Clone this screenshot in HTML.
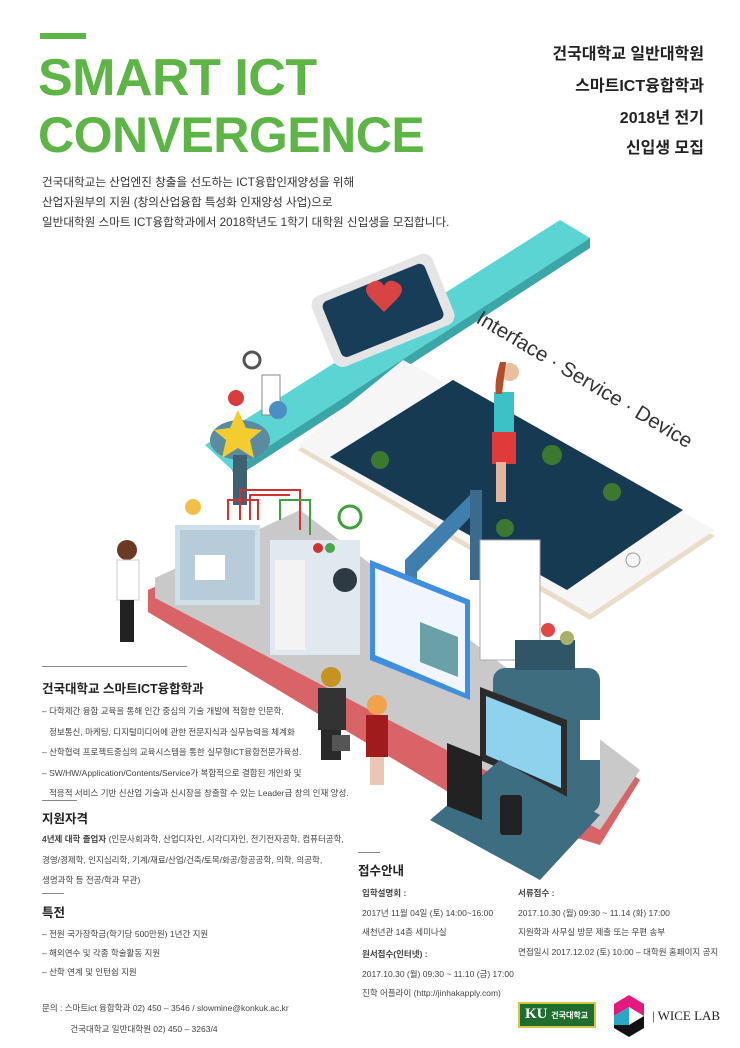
<!DOCTYPE html>
<html><head><meta charset="utf-8">
<style>
*{margin:0;padding:0;box-sizing:border-box}
body{width:740px;height:1048px;background:#fff;position:relative;overflow:hidden;font-family:"Liberation Sans","Noto Sans CJK KR",sans-serif;color:#333}
.a{position:absolute;white-space:nowrap}
.big{font-weight:bold;color:#5cb545;line-height:1;transform-origin:0 0;letter-spacing:-0.5px}
.rt{right:36px;font-size:16px;font-weight:bold;color:#222;text-align:right}
.p{font-size:11.6px;color:#333;line-height:20px;left:42px}
.h{font-size:12.5px;font-weight:bold;color:#222}
.s{font-size:8.5px;color:#444}
.ln{position:absolute;height:1px;background:#888}
</style></head><body>
<div class="a" style="left:40px;top:33px;width:46px;height:6px;background:#5cb545"></div>
<div class="a big" style="left:38px;top:52px;font-size:52px">SMART ICT</div>
<div class="a big" style="left:38px;top:110px;font-size:50px">CONVERGENCE</div>
<div class="a rt" style="top:40px">건국대학교 일반대학원</div>
<div class="a rt" style="top:72px">스마트ICT융합학과</div>
<div class="a rt" style="top:104px">2018년 전기</div>
<div class="a rt" style="top:134px">신입생 모집</div>
<div class="a p" style="top:173px">건국대학교는 산업엔진 창출을 선도하는 ICT융합인재양성을 위해<br>산업자원부의 지원 (창의산업융합 특성화 인재양성 사업)으로<br>일반대학원 스마트 ICT융합학과에서 2018학년도 1학기 대학원 신입생을 모집합니다.</div>

<svg class="a" style="left:0;top:0" width="740" height="1048">
<polygon points="148,590 300,520 640,780 600,845 470,805 148,612" fill="#d86468"/>
<polygon points="155,578 300,510 640,770 600,830 155,598" fill="#c9c9c9"/>
<polygon points="205,445 560,220 590,238 232,470" fill="#5dd4d4"/>
<polygon points="232,470 590,238 590,248 235,478" fill="#3aa6a8"/>
<rect x="318" y="272" width="130" height="76" rx="10" fill="#e5e5e5" transform="rotate(-22 384 310)"/>
<rect x="328" y="280" width="110" height="60" rx="6" fill="#173d58" transform="rotate(-22 384 310)"/>
<path d="M372 300 q-12 -12 0 -18 q8 -4 12 4 q4 -8 12 -4 q12 6 0 18 l-12 12z" fill="#d84343"/>
<polygon points="298,450 403,363 715,536 590,620" fill="#e8ddc8"/>
<polygon points="298,445 403,360 715,530 590,614" fill="#f6f6f6"/>
<polygon points="330,457 453,380 683,510 567,590" fill="#163a52"/>
<circle cx="633" cy="560" r="7" fill="none" stroke="#999"/>
<text x="475" y="322" font-size="20.5" fill="#333" transform="rotate(30.8 475 322)" font-family="Liberation Sans">Interface · Service · Device</text>
<rect x="494" y="392" width="20" height="44" fill="#3cc1c6"/>
<rect x="492" y="432" width="24" height="32" fill="#e03a3a"/>
<rect x="496" y="462" width="10" height="40" fill="#e4b59a"/>
<circle cx="510" cy="372" r="9" fill="#e9bfa0"/>
<path d="M500 362 q-6 20 -4 32 l6 0 l4 -32z" fill="#b44d2a"/>
<circle cx="380" cy="460" r="9" fill="#3b7a2e"/><circle cx="552" cy="455" r="10" fill="#3b7a2e"/><circle cx="612" cy="492" r="9" fill="#3b7a2e"/><circle cx="505" cy="528" r="9" fill="#3b7a2e"/>
<ellipse cx="240" cy="440" rx="30" ry="20" fill="#5b8ba0"/>
<rect x="233" y="455" width="14" height="50" fill="#3f6070"/>
<polygon points="238,410 246,428 262,430 250,440 254,458 238,448 222,458 226,440 214,430 230,428" fill="#f3cc2e"/>
<rect x="262" y="375" width="18" height="40" fill="#fff" stroke="#888"/>
<circle cx="278" cy="410" r="9" fill="#4a8fc3"/>
<circle cx="252" cy="360" r="8" fill="none" stroke="#555" stroke-width="3"/>
<circle cx="236" cy="398" r="8" fill="#d83c3c"/>
<rect x="175" y="525" width="85" height="80" fill="#cfe0ea"/>
<rect x="180" y="530" width="75" height="70" fill="#b7ccd8"/>
<rect x="195" y="555" width="30" height="25" fill="#fff"/>
<rect x="270" y="540" width="90" height="115" fill="#dfe9ef"/>
<rect x="275" y="560" width="30" height="90" fill="#f3f3f3"/>
<circle cx="345" cy="580" r="12" fill="#2d3a44"/>
<circle cx="318" cy="548" r="5" fill="#d03232"/><circle cx="330" cy="548" r="5" fill="#4aa64a"/>
<path d="M228 520 v-20 h30 v20 M240 520 v-30 h60 v40 M250 520 v-25 h40" stroke="#d03232" fill="none" stroke-width="2"/>
<path d="M280 520 v-20 h30 v35" stroke="#3fa03f" fill="none" stroke-width="2"/>
<circle cx="193" cy="507" r="8" fill="#f2c04a"/>
<circle cx="350" cy="517" r="11" fill="#fff" stroke="#3fa03f" stroke-width="3"/>
<rect x="405" y="560" width="12" height="60" fill="#3f7fae"/>
<polygon points="405,560 470,495 482,505 417,572" fill="#3f7fae"/>
<rect x="470" y="490" width="12" height="90" fill="#3a6a8c"/>
<polygon points="370,560 470,600 470,700 370,660" fill="#3e8fe0"/>
<polygon points="375,568 465,604 465,693 375,655" fill="#f0f6fb"/>
<polygon points="420,622 458,637 458,677 420,662" fill="#6aa0a8"/>
<rect x="480" y="540" width="60" height="120" fill="#fff" stroke="#aaa"/>
<rect x="493" y="668" width="107" height="145" rx="12" fill="#3f6d80"/>
<rect x="515" y="640" width="60" height="30" fill="#2f5566"/>
<circle cx="548" cy="630" r="7" fill="#e04848"/><circle cx="567" cy="638" r="7" fill="#a9b06a"/>
<rect x="580" y="720" width="20" height="40" fill="#fff"/>
<polygon points="480,687 567,720 567,797 480,760" fill="#2b2b2b"/>
<polygon points="486,696 561,726 561,788 486,755" fill="#8fd2ee"/>
<polygon points="430,820 500,760 600,815 540,880" fill="#3d6d80"/>
<polygon points="447,743 482,757 482,820 447,806" fill="#222"/>
<rect x="500" y="795" width="22" height="40" rx="3" fill="#222"/>
<circle cx="127" cy="550" r="10" fill="#6a3a22"/>
<rect x="117" y="560" width="22" height="40" fill="#fff" stroke="#ccc"/>
<rect x="120" y="600" width="14" height="42" fill="#222"/>
<circle cx="331" cy="677" r="10" fill="#c49320"/>
<rect x="318" y="688" width="28" height="42" fill="#333"/>
<rect x="321" y="730" width="20" height="30" fill="#2a2a2a"/>
<rect x="332" y="735" width="18" height="16" fill="#555"/>
<circle cx="377" cy="705" r="10" fill="#f2a24a"/>
<rect x="366" y="715" width="22" height="42" fill="#a01c1c"/>
<rect x="370" y="757" width="14" height="28" fill="#e8c8b4"/>
</svg>

<div class="ln" style="left:42px;top:666px;width:145px"></div>
<div class="a h" style="left:42px;top:678px">건국대학교 스마트ICT융합학과</div>
<div class="a s" style="left:42px;top:701px;line-height:20.5px">– 다학제간 융합 교육을 통해 인간 중심의 기술 개발에 적합한 인문학,<br>&nbsp;&nbsp;&nbsp;정보통신, 마케팅, 디지털미디어에 관한 전문지식과 실무능력을 체계화<br>– 산학협력 프로젝트중심의 교육시스템을 통한 실무형ICT융합전문가육성.<br>– SW/HW/Application/Contents/Service가 복합적으로 결합된 개인화 및<br>&nbsp;&nbsp;&nbsp;적응적 서비스 기반 신산업 기술과 신시장을 창출할 수 있는 Leader급 창의 인재 양성.</div>
<div class="ln" style="left:42px;top:800px;width:35px"></div>
<div class="a h" style="left:42px;top:808px">지원자격</div>
<div class="a s" style="left:42px;top:829px;line-height:20.5px"><b>4년제 대학 졸업자</b> (인문사회과학, 산업디자인, 시각디자인, 전기전자공학, 컴퓨터공학,<br>경영/경제학, 인지심리학, 기계/재료/산업/건축/토목/화공/항공공학, 의학, 의공학,<br>생명과학 등 전공/학과 무관)</div>
<div class="ln" style="left:42px;top:893px;width:22px"></div>
<div class="a h" style="left:42px;top:902px">특전</div>
<div class="a s" style="left:42px;top:925px;line-height:19px">– 전원 국가장학금(학기당 500만원) 1년간 지원<br>– 해외연수 및 각종 학술활동 지원<br>– 산학 연계 및 인턴쉽 지원</div>
<div class="a s" style="left:42px;top:998px;line-height:21px">문의 : 스마트ict 융합학과 02) 450 – 3546 / slowmine@konkuk.ac.kr<br>&nbsp;&nbsp;&nbsp;&nbsp;&nbsp;&nbsp;&nbsp;&nbsp;&nbsp;&nbsp;&nbsp;&nbsp;건국대학교 일반대학원 02) 450 – 3263/4</div>

<div class="ln" style="left:358px;top:852px;width:22px"></div>
<div class="a h" style="left:358px;top:860px">접수안내</div>
<div class="a s" style="left:362px;top:884px;line-height:19.5px"><b>입학설명회 :</b><br>2017년 11월 04일 (토) 14:00~16:00<br>새천년관 14층 세미나실</div>
<div class="a s" style="left:362px;top:945px;line-height:19.5px"><b>원서접수(인터넷) :</b><br>2017.10.30 (월) 09:30 ~ 11.10 (금) 17:00<br>진학 어플라이 (http://jinhakapply.com)</div>
<div class="a s" style="left:518px;top:884px;line-height:19.5px"><b>서류접수 :</b><br>2017.10.30 (월) 09:30 ~ 11.14 (화) 17:00<br>지원학과 사무실 방문 제출 또는 우편 송부<br>면접일시 2017.12.02 (토) 10:00 – 대학원 홈페이지 공지</div>

<div class="a" style="left:518px;top:1002px;width:78px;height:26px;background:#1e6e2e;border:2px solid #d8c44a;color:#fff;font-family:'Liberation Serif',serif;font-size:15px;padding:2px 5px;font-weight:bold">KU <span style="font-size:8px">건국대학교</span></div>
<svg class="a" style="left:614px;top:995px" width="30" height="42"><polygon points="15,0 30,9 30,21 15,12 0,21 0,9" fill="#e4197d"/><polygon points="0,21 15,12 15,30 0,30" fill="#2aa7c4"/><polygon points="15,30 30,21 30,33 15,42 0,33 0,30" fill="#111"/></svg>
<div class="a" style="left:652px;top:1008px;font-family:'Liberation Serif',serif;font-size:13px;color:#222">| WICE LAB</div>
</body></html>
